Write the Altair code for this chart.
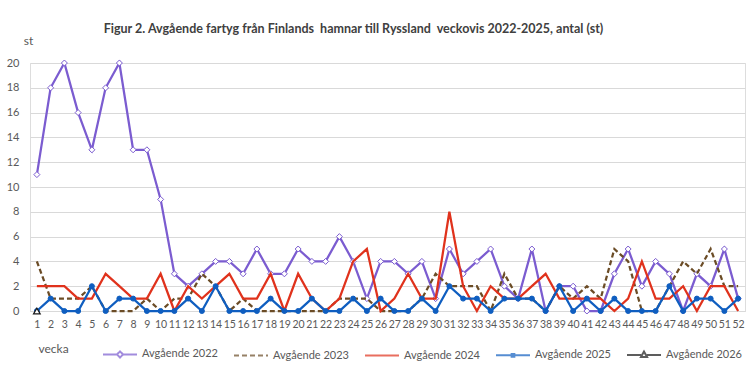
import altair as alt
import pandas as pd

weeks = list(range(1, 53))
series_names = ["Avgående 2022", "Avgående 2023", "Avgående 2024", "Avgående 2025", "Avgående 2026"]
colors = ["#7b5cd0", "#6b4c26", "#e0321c", "#0f5ec0", "#1a1a1a"]

v2022 = [11, 18, 20, 16, 13, 18, 20, 13, 13, 9,
         3, 2, 3, 4, 4, 3, 5, 3, 3, 5,
         4, 4, 6, 4, 1, 4, 4, 3, 4, 1,
         5, 3, 4, 5, 2, 1, 5, 0, 2, 2,
         0, 0, 3, 5, 2, 4, 3, 0, 3, 2,
         5, 1]
v2023 = [4, 1, 1, 1, 2, 0, 0, 0, 1, 0,
         1, 1, 3, 2, 0, 1, 0, 0, 0, 0,
         0, 0, 1, 1, 1, 0, 0, 0, 1, 3,
         2, 2, 2, 0, 3, 1, 1, 0, 2, 1,
         2, 1, 5, 4, 0, 0, 2, 4, 3, 5,
         2, 2]
v2024 = [2, 2, 2, 1, 1, 3, 2, 1, 1, 3,
         0, 2, 1, 2, 3, 1, 1, 3, 0, 3,
         1, 0, 1, 4, 5, 0, 1, 3, 1, 1,
         8, 2, 0, 2, 1, 1, 2, 3, 1, 1,
         1, 1, 0, 1, 4, 1, 1, 2, 0, 2,
         2, 0]
v2025 = [0, 1, 0, 0, 2, 0, 1, 1, 0, 0,
         0, 1, 0, 2, 0, 0, 0, 1, 0, 0,
         1, 0, 0, 1, 0, 1, 0, 0, 1, 0,
         2, 1, 1, 0, 1, 1, 1, 0, 2, 0,
         1, 0, 1, 0, 0, 0, 2, 0, 1, 1,
         0, 1]
v2026 = [0] + [None] * 51

values = [v2022, v2023, v2024, v2025, v2026]
rows = []
for name, vals in zip(series_names, values):
    for w, v in zip(weeks, vals):
        rows.append({"week": w, "value": v, "series": name})
df = pd.DataFrame(rows)

FONT = "Lato"
GREY = "#595959"

x_enc = alt.X(
    "week:O",
    scale=alt.Scale(type="point", padding=0.5, domain=weeks),
    axis=alt.Axis(
        title="vecka", titleX=8, titleY=37, titleAlign="left", titleBaseline="middle",
        titleFont=FONT, titleFontSize=12, titleFontWeight="normal", titleColor=GREY,
        labelAngle=0, labelOverlap=False, labelFont=FONT, labelFontSize=10.5, labelColor=GREY,
        labelPadding=8, ticks=False, domainColor="#d9d9d9", grid=False,
    ),
)
y_enc = alt.Y(
    "value:Q",
    scale=alt.Scale(domain=[0, 20], nice=False),
    axis=alt.Axis(
        title="st", titleAngle=0, titleX=-2, titleY=-23, titleAlign="center", titleBaseline="middle",
        titleFont=FONT, titleFontSize=12, titleFontWeight="normal", titleColor=GREY,
        values=list(range(0, 21, 2)), labelFont=FONT, labelFontSize=11, labelColor=GREY,
        labelPadding=11, ticks=False, domain=False, grid=True, gridColor="#d9d9d9", gridWidth=1,
    ),
)

base = alt.Chart(df)


def line(name, color, dash=None):
    kw = dict(color=color, strokeWidth=2.25)
    if dash:
        kw["strokeDash"] = dash
    return base.transform_filter(alt.datum.series == name).mark_line(**kw).encode(x=x_enc, y=y_enc)


def points(name, shape, size, color, fill, sw):
    return base.transform_filter(alt.datum.series == name).mark_point(
        shape=shape, size=size, stroke=color, fill=fill, filled=True, strokeWidth=sw, opacity=1
    ).encode(x=x_enc, y=y_enc)


# legend layer (points with null y are not drawn; only the legend is shown)
legend_df = pd.DataFrame({"series": series_names, "week": [1] * 5, "value": [None] * 5})
shapes = [
    "M-1,0L-0.18,0M0.18,0L1,0M0,-0.18L0.18,0L0,0.18L-0.18,0Z",
    "M-1,0L1,0",
    "M-1,0L1,0",
    "M-1,0L1,0M-0.08,-0.08L0.08,-0.08L0.08,0.08L-0.08,0.08Z",
    "M-1,0L-0.17,0M0.17,0L1,0M0,-0.2L0.18,0.12L-0.18,0.12Z",
]
dashes = [[1, 0], [5, 3], [1, 0], [1, 0], [1, 0]]
leg = alt.Legend(
    orient="none", legendX=72, legendY=273, direction="horizontal", title=None,
    symbolSize=1156, symbolStrokeWidth=2, labelFont=FONT, labelFontSize=11, labelColor=GREY,
    columnPadding=12, labelOffset=4, padding=0, columns=5,
)
legend_layer = alt.Chart(legend_df).mark_point(filled=False, strokeWidth=2).encode(
    x=x_enc,
    y=y_enc,
    color=alt.Color("series:N", scale=alt.Scale(domain=series_names, range=colors), legend=leg),
    shape=alt.Shape("series:N", scale=alt.Scale(domain=series_names, range=shapes), legend=leg),
    strokeDash=alt.StrokeDash("series:N", scale=alt.Scale(domain=series_names, range=dashes), legend=leg),
)

chart = alt.layer(
    line(series_names[0], colors[0]),
    points(series_names[0], "diamond", 36, colors[0], "white", 1),
    line(series_names[1], colors[1], [5, 3]),
    line(series_names[2], colors[2]),
    line(series_names[3], colors[3]),
    points(series_names[3], "circle", 25, colors[3], colors[3], 1),
    points(series_names[4], "triangle-up", 45, colors[4], "white", 1.2),
    legend_layer,
).properties(
    width=715,
    height=248,
    autosize=alt.AutoSizeParams(type="none"),
    padding={"left": 30, "top": 63, "right": 11, "bottom": 67},
    title=alt.TitleParams(
        text="Figur 2. Avgående fartyg från Finlands\u00a0 hamnar till Ryssland\u00a0 veckovis 2022-2025, antal (st)",
        font=FONT, fontSize=12.5, fontWeight="bold", color="#404040", anchor="middle", dx=-34, dy=19,
        baseline="middle", offset=12,
    ),
).configure_view(stroke=None).configure(background="white")

chart.save("out.html", embed_options={"renderer": "svg", "actions": False})
